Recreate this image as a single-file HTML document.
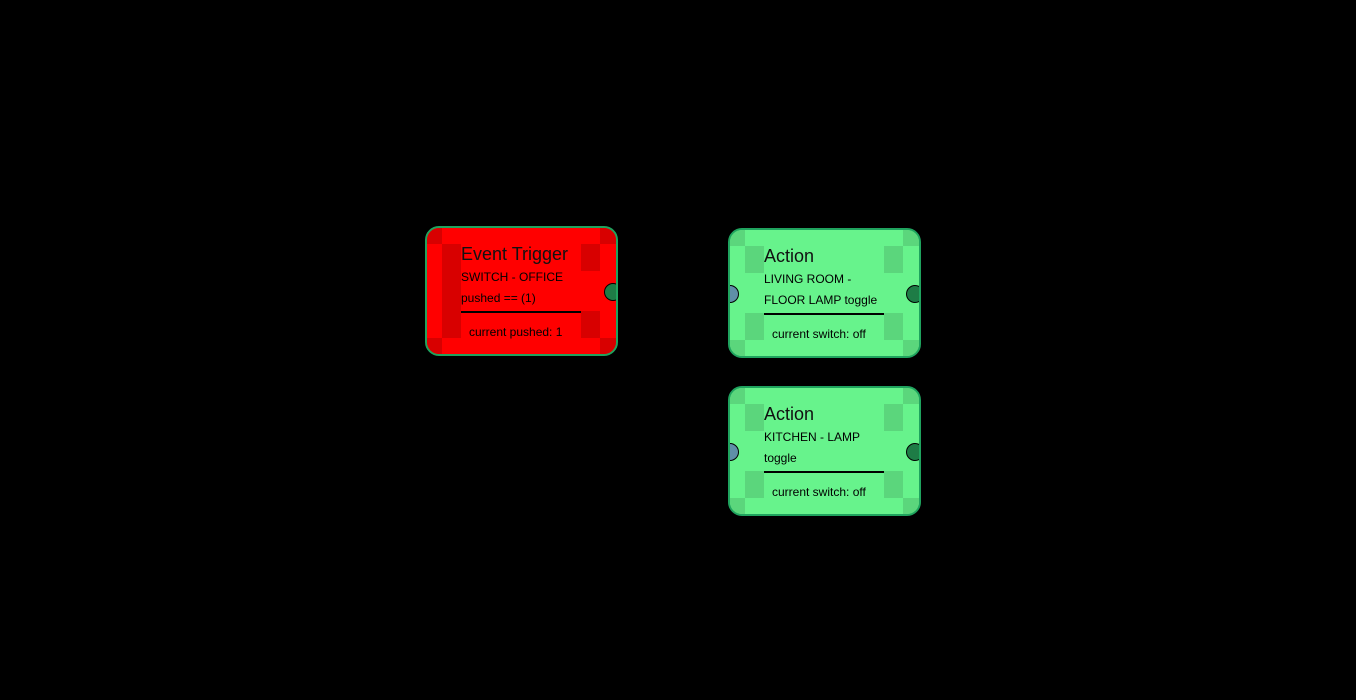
<!DOCTYPE html>
<html><head><style>
body{margin:0;background:#000;width:1356px;height:700px;overflow:hidden;font-family:"Liberation Sans",Arial,sans-serif;}
.n{position:absolute;width:189px;height:126px;border:2px solid #1fa35e;border-radius:14px;overflow:hidden;}
.n div{position:absolute;}
.red{background:#ff0000}
.red .s{background:#d80000}
.grn{background:#67f38c}
.grn .s{background:#5bd67c}
.t{font-size:18px;line-height:20px;color:#111;}
.l{font-size:12px;color:#000;line-height:14px;white-space:nowrap}
.r{height:2px;background:#000;}
.p{width:16px;height:16px;border:1.5px solid #000;border-radius:50%;}
</style></head><body>

<div class="n red" style="left:425px;top:226px">
<div class="s" style="left:-2px;top:-2px;width:17px;height:18px"></div>
<div class="s" style="left:173px;top:-2px;width:18px;height:18px"></div>
<div class="s" style="left:-2px;top:110px;width:17px;height:18px"></div>
<div class="s" style="left:173px;top:110px;width:18px;height:18px"></div>
<div class="s" style="left:15px;top:16px;width:19px;height:94px"></div>
<div class="s" style="left:154px;top:16px;width:19px;height:27px"></div>
<div class="s" style="left:154px;top:83px;width:19px;height:27px"></div>
<div class="t" style="left:34px;top:16px">Event Trigger</div>
<div class="l" style="left:34px;top:42px">SWITCH - OFFICE</div>
<div class="l" style="left:34px;top:63px">pushed == (1)</div>
<div class="r" style="left:34px;top:83px;width:120px"></div>
<div class="l" style="left:42px;top:97px">current pushed: 1</div>
<div class="p" style="left:177px;top:55px;background:#1e7c46"></div>
</div>

<div class="n grn" style="left:728px;top:228px">
<div class="s" style="left:-2px;top:-2px;width:17px;height:18px"></div>
<div class="s" style="left:173px;top:-2px;width:18px;height:18px"></div>
<div class="s" style="left:-2px;top:110px;width:17px;height:18px"></div>
<div class="s" style="left:173px;top:110px;width:18px;height:18px"></div>
<div class="s" style="left:15px;top:16px;width:19px;height:27px"></div>
<div class="s" style="left:15px;top:83px;width:19px;height:27px"></div>
<div class="s" style="left:154px;top:16px;width:19px;height:27px"></div>
<div class="s" style="left:154px;top:83px;width:19px;height:27px"></div>
<div class="t" style="left:34px;top:16px">Action</div>
<div class="l" style="left:34px;top:42px">LIVING ROOM -</div>
<div class="l" style="left:34px;top:63px">FLOOR LAMP toggle</div>
<div class="r" style="left:34px;top:83px;width:120px"></div>
<div class="l" style="left:42px;top:97px">current switch: off</div>
<div class="p" style="left:-9px;top:55px;background:#5f8fa8"></div>
<div class="p" style="left:176px;top:55px;background:#1e7c46"></div>
</div>

<div class="n grn" style="left:728px;top:386px">
<div class="s" style="left:-2px;top:-2px;width:17px;height:18px"></div>
<div class="s" style="left:173px;top:-2px;width:18px;height:18px"></div>
<div class="s" style="left:-2px;top:110px;width:17px;height:18px"></div>
<div class="s" style="left:173px;top:110px;width:18px;height:18px"></div>
<div class="s" style="left:15px;top:16px;width:19px;height:27px"></div>
<div class="s" style="left:15px;top:83px;width:19px;height:27px"></div>
<div class="s" style="left:154px;top:16px;width:19px;height:27px"></div>
<div class="s" style="left:154px;top:83px;width:19px;height:27px"></div>
<div class="t" style="left:34px;top:16px">Action</div>
<div class="l" style="left:34px;top:42px">KITCHEN - LAMP</div>
<div class="l" style="left:34px;top:63px">toggle</div>
<div class="r" style="left:34px;top:83px;width:120px"></div>
<div class="l" style="left:42px;top:97px">current switch: off</div>
<div class="p" style="left:-9px;top:55px;background:#5f8fa8"></div>
<div class="p" style="left:176px;top:55px;background:#1e7c46"></div>
</div>

</body></html>
